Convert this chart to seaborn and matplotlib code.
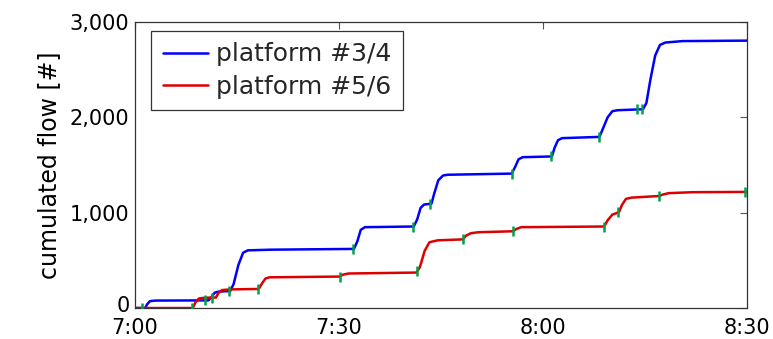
import numpy as np
import pandas as pd
import matplotlib
matplotlib.use("Agg")
import matplotlib.pyplot as plt
import matplotlib.transforms as mtrans
import seaborn as sns
from matplotlib.ticker import FuncFormatter, FixedLocator
from matplotlib.lines import Line2D

# ---- data (minutes after 7:00, cumulated flow) ----
blue_t = [0, 1.5, 1.8, 2.2, 3, 10.8, 11.2, 11.7, 12.3, 14.0, 14.5, 15.2, 15.9, 16.6, 20, 32.2, 32.7,
          33.2, 33.8, 41.0, 41.5, 42.0, 42.5, 43.6, 44.0, 44.6, 45.3, 46, 55.4, 55.9, 56.4, 57.0,
          61.3, 61.7, 62.2, 62.8, 68.3, 68.8, 69.5, 70.2, 71, 74.7, 75.2, 75.8, 76.5, 77.2, 78,
          80.5, 90]
blue_v = [0, 0, 40, 72, 78, 80, 110, 160, 172, 178, 250, 450, 580, 605, 612, 620, 700,
          820, 848, 855, 930, 1050, 1085, 1095, 1200, 1340, 1390, 1398, 1410, 1480, 1560, 1582,
          1590, 1680, 1760, 1782, 1795, 1880, 2000, 2065, 2075, 2085, 2150, 2400, 2650, 2760, 2785,
          2800, 2805]
red_t = [0, 8.5, 8.9, 9.4, 10.3, 11.9, 12.3, 12.8, 14, 18.2, 18.7, 19.2, 19.8, 30.1, 30.6, 31.4,
         41.4, 41.9, 42.6, 43.3, 44.5, 48.2, 48.7, 49.4, 50.5, 55.6, 56.1, 56.8, 69.0, 69.5, 70.2,
         70.8, 71.2, 71.6, 72.2, 73, 77.1, 77.6, 78.5, 82, 90]
red_v = [0, 0, 60, 100, 108, 110, 160, 188, 195, 200, 260, 310, 322, 330, 350, 362,
         372, 430, 600, 690, 710, 720, 760, 785, 795, 805, 830, 848, 855, 920, 980,
         995, 1010, 1080, 1145, 1158, 1175, 1190, 1205, 1215, 1218]
blue_marks = [1.0, 10.3, 13.8, 32.1, 40.9, 43.4, 55.4, 61.2, 68.2, 73.8, 74.6]
red_marks = [8.4, 11.4, 18.1, 30.1, 41.5, 48.2, 55.6, 69.0, 71.0, 77.1, 89.7]
series = ["platform #3/4", "platform #5/6"]
x_ticks = [0, 30, 60, 90]
x_labels = ["7:00", "7:30", "8:00", "8:30"]
y_ticks = [0, 1000, 2000, 3000]

sns.set_theme(style="white")
plt.rcParams["font.family"] = ["DejaVu Sans"]

df = pd.concat([
    pd.DataFrame({"t": blue_t, "v": blue_v, "s": series[0]}),
    pd.DataFrame({"t": red_t, "v": red_v, "s": series[1]}),
])

blue_c, red_c, green = "#0000ff", "#dd0000", "#00a04a"

fig = plt.figure(figsize=(7.73, 3.39), dpi=100)
ax = fig.add_axes([0.1746, 0.0914, 0.9664 - 0.1746, 0.935 - 0.0914])

sns.lineplot(data=df, x="t", y="v", hue="s", palette=[blue_c, red_c],
             linewidth=1.8, ax=ax, sort=False, estimator=None, legend=False)

ax.plot(blue_marks, np.interp(blue_marks, blue_t, blue_v), linestyle="none", marker="|",
        markersize=7, markeredgewidth=1.8, color=green, zorder=5)
ax.plot(red_marks, np.interp(red_marks, red_t, red_v), linestyle="none", marker="|",
        markersize=7, markeredgewidth=1.8, color=green, zorder=5)

ax.set_xlim(0, 90)
ax.set_ylim(0, 3000)
ax.xaxis.set_major_locator(FixedLocator(x_ticks))
ax.set_xticklabels(x_labels)
ax.yaxis.set_major_locator(FixedLocator(y_ticks))
ax.yaxis.set_major_formatter(FuncFormatter(lambda v, p: f"{int(v):,}"))
ax.tick_params(direction="in", length=5, width=0.8, color="#555555", top=True, right=True,
               labelsize=15, pad=4, labelcolor="black")
ax.tick_params(axis="x", pad=7)
for sp in ax.spines.values():
    sp.set_color("#333333")
    sp.set_linewidth(0.9)
ax.set_xlabel("")
ax.set_ylabel("cumulated flow [#]", fontsize=17, labelpad=6, color="black")

# nudge the "0" label up a little so it does not collide with "7:00"
zero_tick = ax.yaxis.get_major_ticks()[0]
zero_tick.label1.set_transform(zero_tick.label1.get_transform() +
                               mtrans.ScaledTranslation(0, 3 / 72, fig.dpi_scale_trans))

handles = [Line2D([], [], color=blue_c, linewidth=1.8),
           Line2D([], [], color=red_c, linewidth=1.8)]
leg = ax.legend(handles, series, loc="upper left", bbox_to_anchor=(0.027, 0.968),
                fontsize=18, frameon=True, fancybox=False, handlelength=1.8,
                handletextpad=0.35, borderpad=0.45, labelspacing=0.35, borderaxespad=0)
leg.get_frame().set_edgecolor("black")
leg.get_frame().set_linewidth(0.9)

fig.savefig("out.png", dpi=100)
